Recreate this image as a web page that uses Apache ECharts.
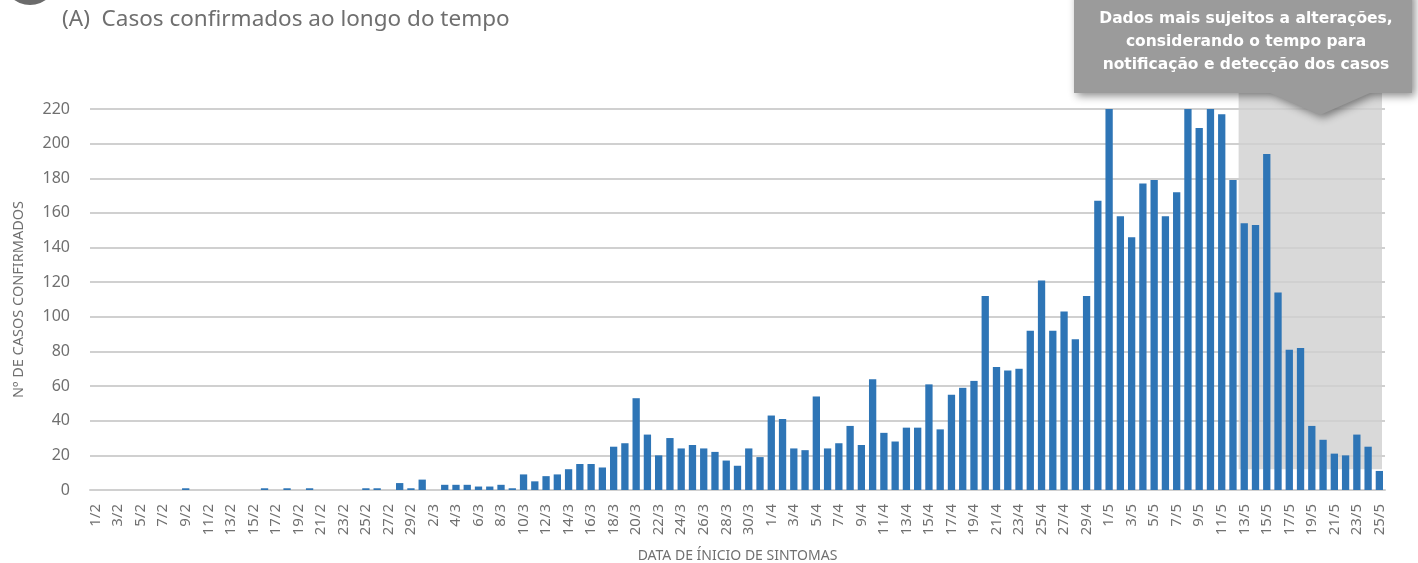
<!DOCTYPE html>
<html>
<head>
<meta charset="utf-8">
<script src="https://cdn.jsdelivr.net/npm/echarts@6/dist/echarts.min.js"></script>
<style>
  html, body { margin: 0; padding: 0; background: #fff; }
  #chart { width: 1418px; height: 563px; }
</style>
</head>
<body>
<div id="chart"></div>
<script>
// meses (2020) e número de dias mostrados
const months = [2, 3, 4, 5]
const monthDays = [29, 31, 30, 25]

const categories = []
months.forEach((m, i) => {
  for (let d = 1; d <= monthDays[i]; d++) categories.push(d + '/' + m)
})

// casos por data de início de sintomas
const febCases = [0, 0, 0, 0, 0, 0, 0, 0, 1, 0, 0, 0, 0, 0, 0, 1, 0, 1, 0, 1, 0, 0, 0, 0, 1, 1, 0, 4, 1]
const marCases = [6, 0, 3, 3, 3, 2, 2, 3, 1, 9, 5, 8, 9, 12, 15, 15, 13, 25, 27, 53, 32, 20, 30, 24, 26, 24, 22, 17, 14, 24, 19]
const aprCases = [43, 41, 24, 23, 54, 24, 27, 37, 26, 64, 33, 28, 36, 36, 61, 35, 55, 59, 63, 112, 71, 69, 70, 92, 121, 92, 103, 87, 112, 167]
const mayCases = [232, 158, 146, 177, 179, 158, 172, 228, 209, 236, 217, 179, 154, 153, 194, 114, 81, 82, 37, 29, 21, 20, 32, 25, 11]
const cases = febCases.concat(marCases, aprCases, mayCases)

const yTicks = [0, 20, 40, 60, 80, 100, 120, 140, 160, 180, 200, 220]

// período com dados mais sujeitos a alterações
const shadeFrom = '13/5'
const shadeTo = '25/5'
const shadeTop = 220
const shadeBottom = 12

const labelColor = '#707070'
const gridColor = '#d0d0d0'
const barColor = '#2e75b6'

const chart = echarts.init(document.getElementById('chart'))

chart.setOption({
  animation: false,
  grid: { left: 90, right: 33, top: 109, bottom: 73, outerBoundsMode: 'none', containLabel: false },
  xAxis: {
    type: 'category',
    data: categories,
    name: 'DATA DE ÍNICIO DE SINTOMAS',
    nameLocation: 'middle',
    nameGap: 59,
    nameTextStyle: { color: labelColor, fontSize: 14, fontFamily: 'Noto Sans' },
    axisLine: { lineStyle: { color: gridColor, width: 2 } },
    axisTick: { show: false },
    axisLabel: {
      interval: 1,
      rotate: 90,
      margin: 14,
      color: labelColor,
      fontSize: 15,
      fontFamily: 'Noto Sans'
    }
  },
  yAxis: {
    type: 'value',
    min: yTicks[0],
    max: yTicks[yTicks.length - 1],
    interval: 20,
    name: 'Nº DE CASOS CONFIRMADOS',
    nameLocation: 'middle',
    nameGap: 64,
    nameRotate: 90,
    nameTextStyle: { color: labelColor, fontSize: 14.5, fontFamily: 'Noto Sans' },
    axisLine: { show: false },
    axisTick: { show: false },
    axisLabel: { color: labelColor, fontSize: 16, margin: 20, fontFamily: 'Noto Sans' },
    splitLine: { lineStyle: { color: gridColor, width: 2 } }
  },
  series: [{
    type: 'bar',
    data: cases,
    barWidth: 7.3,
    clip: true,
    itemStyle: { color: barColor },
    z: 3
  }]
})

// área sombreada + caixa de aviso (posições a partir dos eixos)
const step = chart.convertToPixel({ xAxisIndex: 0 }, categories[1]) - chart.convertToPixel({ xAxisIndex: 0 }, categories[0])
const x0 = chart.convertToPixel({ xAxisIndex: 0 }, shadeFrom) - step / 2
const x1 = chart.convertToPixel({ xAxisIndex: 0 }, shadeTo) + step / 2 - 3
const yT = chart.convertToPixel({ yAxisIndex: 0 }, shadeTop) - 16
const yB = chart.convertToPixel({ yAxisIndex: 0 }, shadeBottom)

chart.setOption({
  graphic: [
    {
      type: 'rect',
      z: -10,
      silent: true,
      shape: { x: x0, y: yT, width: x1 - x0, height: yB - yT },
      style: { fill: '#d9d9d9' }
    },
    {
      type: 'circle',
      shape: { cx: 30, cy: -22, r: 27 },
      style: { fill: '#6b6b6b' }
    },
    {
      type: 'text',
      left: 62,
      top: 8,
      style: {
        text: '(A)  Casos confirmados ao longo do tempo',
        fill: '#6f6f6f',
        fontSize: 22.5,
        fontFamily: 'Noto Sans'
      }
    },
    {
      type: 'polygon',
      z: 100,
      shape: {
        points: [[1074, -10], [1412, -10], [1412, 93], [1370, 93], [1320, 115], [1270, 93], [1074, 93]]
      },
      style: {
        fill: '#9b9b9b',
        shadowBlur: 8,
        shadowOffsetX: 3,
        shadowOffsetY: 3,
        shadowColor: 'rgba(0,0,0,0.45)'
      }
    },
    {
      type: 'text',
      z: 101,
      x: 1246,
      y: 7,
      style: {
        text: 'Dados mais sujeitos a alterações,\nconsiderando o tempo para\nnotificação e detecção dos casos',
        fill: '#ffffff',
        fontSize: 15.5,
        fontWeight: 'bold',
        lineHeight: 23,
        align: 'center',
        fontFamily: 'DejaVu Sans'
      }
    }
  ]
})
</script>
</body>
</html>
